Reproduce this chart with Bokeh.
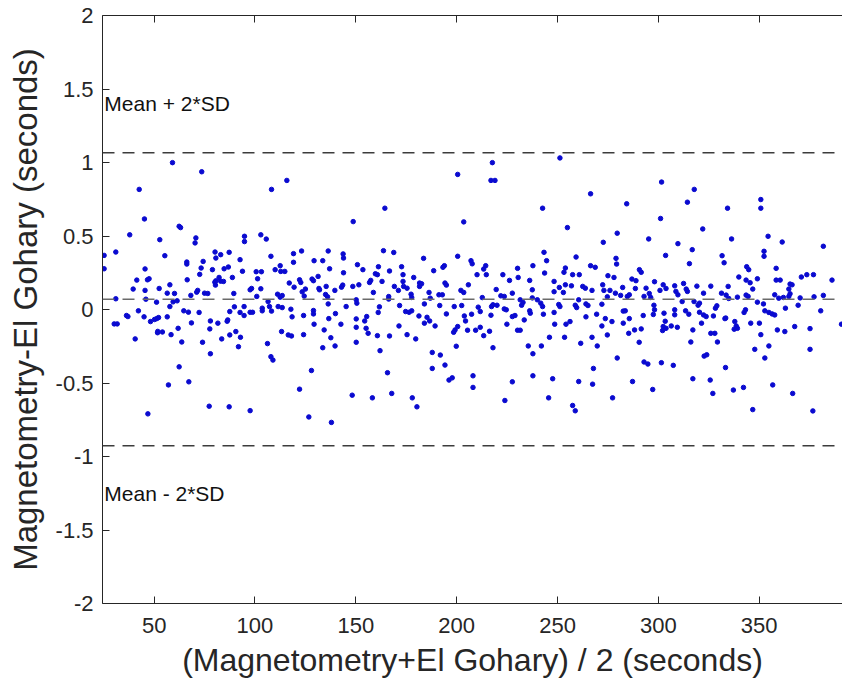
from bokeh.plotting import figure
from bokeh.models import Range1d, FixedTicker, Span, Label, LinearAxis
from bokeh.embed import file_html
from bokeh.resources import INLINE

# ---------------- data ----------------
x_ticks = [50, 100, 150, 200, 250, 300, 350]
y_ticks = [-2, -1.5, -1, -0.5, 0, 0.5, 1, 1.5, 2]
y_tick_labels = ["-2", "-1.5", "-1", "-0.5", "0", "0.5", "1", "1.5", "2"]

mean_diff = 0.07
upper_loa = 1.067
lower_loa = -0.927
upper_text = "Mean + 2*SD"
lower_text = "Mean - 2*SD"

# (average, difference) pairs, by band of the x axis
band_25_95 = [
    (59.1, 0.999), (73.6, 0.937), (42.6, 0.817), (45.2, 0.616), (62.4, 0.566), (63.1, 0.557), (37.9, 0.508), (52.8, 0.475), (70.7, 0.487), (70.3, 0.453),
    (94.8, 0.498), (94.8, 0.462), (25.2, 0.368), (31.0, 0.391), (25.2, 0.277), (55.3, 0.366), (45.5, 0.276), (66.2, 0.323), (66.2, 0.309), (74.3, 0.327),
    (80.2, 0.391), (80.6, 0.350), (83.0, 0.373), (87.2, 0.389), (73.3, 0.282), (78.9, 0.271), (84.7, 0.277), (86.8, 0.289), (92.6, 0.339), (93.8, 0.260),
    (41.4, 0.200), (46.7, 0.202), (47.5, 0.209), (39.6, 0.139), (45.5, 0.130), (66.4, 0.202), (72.6, 0.239), (80.1, 0.186), (80.4, 0.166), (80.6, 0.195),
    (82.2, 0.218), (83.0, 0.193), (84.4, 0.191), (88.8, 0.218), (52.5, 0.143), (57.8, 0.168), (60.1, 0.109), (71.6, 0.130), (71.1, 0.118), (75.0, 0.111),
    (76.6, 0.109), (56.5, 0.111), (68.2, 0.096), (89.5, 0.109), (31.0, 0.073), (45.9, 0.070), (51.2, 0.050), (57.8, 0.020), (59.4, 0.052), (61.4, 0.059),
    (64.7, -0.009), (67.0, -0.018), (72.3, -0.020), (89.8, 0.018), (87.5, -0.014), (92.6, -0.020), (94.6, -0.041), (94.6, 0.020), (36.3, -0.041), (37.0, -0.048),
    (42.2, -0.009), (45.0, -0.050), (30.2, -0.098), (31.7, -0.098), (48.2, -0.082), (50.2, -0.068), (51.3, -0.062), (52.2, -0.055), (56.5, -0.050), (51.8, -0.149),
    (51.7, -0.158), (54.1, -0.153), (58.4, -0.171), (61.9, -0.128), (68.5, -0.091), (77.9, -0.078), (81.6, -0.093), (86.2, -0.080), (86.5, -0.071), (90.5, -0.150),
    (77.6, -0.132), (83.5, -0.200), (87.5, -0.173), (92.8, -0.189), (40.6, -0.200), (63.7, -0.221), (74.0, -0.223), (91.8, -0.253), (77.9, -0.301), (62.4, -0.390),
    (57.1, -0.513), (67.2, -0.492), (77.3, -0.658), (87.2, -0.662), (46.9, -0.710),
]
band_95_167 = [
    (115.8, 0.878), (108.2, 0.817), (164.4, 0.689), (148.7, 0.598), (102.9, 0.508), (105.6, 0.479), (107.9, 0.362), (119.1, 0.380), (123.1, 0.398), (119.1, 0.321),
    (136.3, 0.398), (143.7, 0.378), (143.9, 0.350), (163.7, 0.400), (129.3, 0.332), (133.6, 0.332), (137.0, 0.277), (150.8, 0.305), (153.5, 0.271), (161.2, 0.291),
    (143.9, 0.250), (100.6, 0.257), (103.2, 0.257), (101.3, 0.209), (110.0, 0.271), (112.5, 0.298), (112.8, 0.259), (114.8, 0.259), (159.7, 0.243), (160.7, 0.237),
    (163.0, 0.191), (156.8, 0.184), (157.4, 0.198), (166.7, 0.262), (117.0, 0.180), (122.1, 0.202), (122.7, 0.184), (128.3, 0.207), (129.0, 0.196), (131.3, 0.225),
    (119.4, 0.152), (125.0, 0.139), (123.4, 0.120), (124.4, 0.091), (131.7, 0.143), (132.0, 0.134), (135.3, 0.157), (135.0, 0.102), (136.0, 0.086), (139.6, 0.130),
    (142.9, 0.152), (143.5, 0.166), (148.5, 0.157), (151.5, 0.168), (158.7, 0.116), (97.6, 0.134), (98.3, 0.143), (102.9, 0.141), (100.9, 0.089), (106.5, 0.054),
    (111.2, 0.104), (112.5, 0.084), (113.5, 0.095), (111.5, 0.020), (113.5, 0.013), (103.6, 0.009), (103.6, -0.009), (108.2, -0.011), (107.2, 0.020), (117.8, 0.002),
    (118.4, -0.050), (124.1, -0.041), (129.0, -0.007), (129.0, -0.030), (136.3, 0.038), (139.9, -0.028), (145.2, 0.020), (150.2, 0.066), (150.5, 0.043), (155.4, -0.048),
    (154.4, -0.078), (161.1, -0.020), (161.7, 0.018), (166.3, 0.071), (166.3, 0.088), (97.6, -0.019), (98.8, -0.019), (113.2, -0.150), (116.5, -0.173), (118.1, -0.180),
    (124.1, -0.171), (129.3, -0.100), (134.3, -0.139), (137.6, -0.192), (136.6, -0.062), (142.6, -0.100), (150.2, -0.064), (150.2, -0.121), (155.1, -0.128), (156.1, -0.162),
    (160.7, -0.178), (166.7, -0.180), (133.6, -0.260), (139.7, -0.248), (150.2, -0.223), (162.0, -0.280), (106.2, -0.232), (107.9, -0.321), (108.9, -0.344), (128.0, -0.415),
    (165.7, -0.430), (122.1, -0.542), (148.2, -0.583), (158.2, -0.601), (97.6, -0.688), (126.7, -0.731), (137.9, -0.768),
]
band_167_238 = [
    (217.7, 0.999), (200.5, 0.919), (217.0, 0.878), (219.0, 0.878), (203.5, 0.596), (168.8, 0.388), (183.6, 0.348), (200.5, 0.362), (207.1, 0.332), (207.7, 0.311),
    (172.7, 0.291), (173.4, 0.237), (188.6, 0.264), (193.9, 0.298), (193.2, 0.287), (214.4, 0.298), (213.4, 0.275), (214.7, 0.237), (210.1, 0.237), (222.9, 0.237),
    (230.2, 0.280), (226.2, 0.198), (230.5, 0.218), (236.2, 0.198), (237.8, 0.298), (173.4, 0.191), (173.7, 0.157), (178.7, 0.218), (181.6, 0.180), (181.6, 0.157),
    (182.6, 0.175), (175.4, 0.145), (169.1, 0.157), (171.1, 0.130), (194.2, 0.180), (194.9, 0.166), (205.8, 0.168), (202.1, 0.130), (203.5, 0.116), (191.2, 0.100),
    (192.9, 0.100), (177.4, 0.104), (177.7, 0.082), (186.3, 0.116), (219.6, 0.136), (221.9, 0.093), (223.6, 0.089), (227.6, 0.111), (231.5, 0.066), (232.9, 0.048),
    (232.2, 0.029), (237.5, 0.134), (237.5, 0.079), (186.9, 0.077), (212.7, 0.081), (171.7, 0.027), (184.0, 0.038), (191.6, 0.027), (198.8, 0.020), (202.5, 0.027),
    (210.7, 0.016), (211.7, -0.014), (217.3, 0.020), (218.0, 0.032), (217.0, -0.039), (220.0, 0.029), (223.6, 0.004), (224.6, -0.002), (174.7, -0.014), (176.4, -0.019),
    (177.7, -0.009), (181.3, -0.044), (185.3, -0.053), (186.6, -0.078), (194.9, -0.030), (203.8, -0.044), (207.4, -0.032), (204.4, -0.078), (227.6, -0.048), (228.9, -0.041),
    (236.2, -0.009), (236.5, -0.025), (184.0, -0.093), (189.3, -0.112), (171.4, -0.112), (200.5, -0.116), (199.2, -0.139), (198.5, -0.155), (205.4, -0.141), (209.4, -0.141),
    (211.7, -0.121), (213.4, -0.178), (216.3, -0.148), (224.9, -0.100), (230.2, -0.141), (231.5, -0.141), (233.5, -0.071), (175.4, -0.171), (179.7, -0.200), (199.8, -0.250),
    (218.0, -0.260), (235.5, -0.248), (237.8, -0.301), (187.9, -0.292), (191.9, -0.310), (187.9, -0.401), (194.2, -0.378), (196.2, -0.480), (197.8, -0.465), (208.1, -0.451),
    (208.1, -0.530), (227.6, -0.492), (237.8, -0.451), (167.8, -0.571), (178.0, -0.601), (180.3, -0.662), (223.9, -0.619),
]
band_238_310 = [
    (251.2, 1.031), (301.6, 0.867), (266.4, 0.787), (284.3, 0.719), (242.6, 0.689), (254.9, 0.557), (301.1, 0.619), (279.6, 0.519), (272.7, 0.457), (295.2, 0.480),
    (309.7, 0.448), (243.3, 0.389), (244.6, 0.332), (259.2, 0.357), (279.0, 0.348), (279.3, 0.309), (303.6, 0.368), (243.6, 0.248), (253.2, 0.253), (253.9, 0.282),
    (257.5, 0.237), (260.8, 0.237), (266.4, 0.298), (268.7, 0.287), (275.0, 0.230), (278.0, 0.218), (290.6, 0.271), (291.5, 0.253), (286.9, 0.207), (288.9, 0.196),
    (298.1, 0.189), (248.3, 0.191), (248.3, 0.121), (250.9, 0.150), (253.9, 0.168), (256.9, 0.161), (252.9, 0.116), (262.5, 0.157), (263.8, 0.145), (267.1, 0.130),
    (272.4, 0.168), (273.0, 0.130), (276.0, 0.130), (274.7, 0.086), (278.7, 0.111), (282.3, 0.150), (281.3, 0.096), (284.6, 0.089), (285.6, 0.100), (288.6, 0.143),
    (292.9, 0.089), (293.9, 0.145), (295.5, 0.109), (296.2, 0.082), (300.8, 0.130), (302.4, 0.168), (303.8, 0.143), (308.1, 0.161), (308.7, 0.123), (309.7, 0.100),
    (240.0, 0.066), (241.7, 0.043), (242.6, 0.020), (250.6, 0.034), (251.2, 0.020), (258.8, 0.029), (259.5, 0.013), (260.5, 0.066), (264.1, 0.038), (265.1, 0.027),
    (272.0, 0.036), (297.8, 0.029), (298.1, -0.002), (308.1, -0.002), (243.0, -0.032), (248.3, -0.020), (264.1, -0.050), (269.4, -0.032), (273.7, -0.062), (272.0, -0.112),
    (277.0, -0.082), (282.6, -0.011), (283.6, -0.009), (285.6, -0.062), (282.6, -0.093), (292.5, -0.041), (297.5, -0.034), (302.8, -0.025), (303.4, -0.080), (308.1, -0.036),
    (248.6, -0.100), (254.2, -0.100), (256.2, -0.082), (274.7, -0.173), (285.3, -0.162), (288.2, -0.139), (291.5, -0.132), (302.4, -0.116), (302.1, -0.143), (303.8, -0.128),
    (306.4, -0.112), (309.4, -0.121), (246.0, -0.189), (253.5, -0.189), (261.5, -0.230), (267.1, -0.189), (269.7, -0.248), (290.5, -0.223), (242.0, -0.248), (279.6, -0.330),
    (292.9, -0.357), (294.8, -0.371), (301.5, -0.362), (307.4, -0.380), (247.6, -0.471), (267.8, -0.401), (267.4, -0.508), (260.5, -0.490), (287.2, -0.490), (297.2, -0.544),
    (245.6, -0.601), (277.3, -0.601), (257.5, -0.653), (258.8, -0.689),
]
band_310_391 = [
    (317.8, 0.817), (314.4, 0.730), (334.3, 0.689), (350.8, 0.748), (350.8, 0.689), (322.0, 0.548), (336.3, 0.480), (354.4, 0.498), (361.4, 0.459), (381.8, 0.430),
    (316.8, 0.407), (315.4, 0.312), (331.6, 0.366), (332.6, 0.318), (352.4, 0.396), (352.4, 0.362), (343.8, 0.291), (344.8, 0.271), (358.4, 0.280), (339.9, 0.221),
    (343.5, 0.200), (345.5, 0.182), (349.1, 0.209), (358.4, 0.200), (360.4, 0.200), (370.9, 0.221), (373.6, 0.237), (376.9, 0.237), (365.3, 0.173), (366.3, 0.168),
    (386.1, 0.200), (312.5, 0.177), (313.8, 0.139), (314.4, 0.123), (319.1, 0.159), (326.0, 0.159), (322.4, 0.111), (331.3, 0.111), (333.6, 0.098), (334.6, 0.157),
    (334.9, 0.075), (339.2, 0.084), (343.5, 0.098), (344.5, 0.089), (346.8, 0.139), (357.7, 0.100), (359.7, 0.077), (362.0, 0.082), (364.7, 0.139), (365.3, 0.107),
    (364.7, 0.089), (370.3, 0.079), (377.2, 0.086), (381.8, 0.096), (311.8, 0.054), (317.7, 0.054), (319.7, 0.029), (320.4, 0.043), (313.5, -0.009), (315.1, -0.032),
    (320.4, -0.019), (322.4, -0.037), (323.7, -0.048), (327.3, -0.044), (328.3, 0.009), (329.0, 0.025), (333.0, -0.062), (333.4, -0.058), (342.5, -0.020), (343.2, -0.002),
    (349.1, 0.050), (352.1, 0.038), (352.8, -0.009), (354.8, -0.020), (356.4, -0.030), (357.7, -0.037), (363.0, 0.009), (369.3, 0.029), (380.5, -0.009), (317.1, -0.139),
    (321.4, -0.093), (326.0, -0.162), (328.0, -0.162), (329.3, -0.221), (316.1, -0.221), (337.9, -0.082), (338.6, -0.112), (339.2, -0.128), (337.6, -0.134), (345.8, -0.093),
    (350.1, -0.093), (350.8, -0.171), (359.0, -0.139), (362.7, -0.150), (367.6, -0.116), (375.2, -0.130), (390.8, -0.100), (347.8, -0.271), (354.8, -0.248), (352.8, -0.330),
    (375.2, -0.271), (322.7, -0.317), (324.0, -0.308), (333.3, -0.395), (317.1, -0.471), (325.7, -0.480), (327.0, -0.571), (337.2, -0.548), (342.2, -0.530), (356.7, -0.513),
    (366.6, -0.571), (346.8, -0.681), (376.6, -0.690),
]

points = band_25_95 + band_95_167 + band_167_238 + band_238_310 + band_310_391
avg_values = [pt[0] for pt in points]
diff_values = [pt[1] for pt in points]

# ---------------- figure ----------------
FONT = "Liberation Sans, Arial, Helvetica, sans-serif"
INK = "#262626"

p = figure(width=842, height=682,
           x_range=Range1d(24.4, 391.3), y_range=Range1d(-2, 2),
           output_backend="svg", toolbar_location=None,
           min_border_left=102, min_border_right=0,
           min_border_top=15, min_border_bottom=79)
p.outline_line_color = None
p.grid.visible = False
p.background_fill_color = "white"
p.border_fill_color = "white"

bottom_axis = p.below[0]
left_axis = p.left[0]

top_axis = LinearAxis()
p.add_layout(top_axis, "above")

bottom_axis.ticker = FixedTicker(ticks=x_ticks)
top_axis.ticker = FixedTicker(ticks=x_ticks)
top_axis.major_label_overrides = {t: "" for t in x_ticks}
left_axis.ticker = FixedTicker(ticks=y_ticks)
left_axis.major_label_overrides = {t: s for t, s in zip(y_ticks, y_tick_labels)}

for ax in (bottom_axis, left_axis, top_axis):
    ax.axis_line_color = INK
    ax.axis_line_width = 1
    ax.major_tick_line_color = INK
    ax.major_tick_in = 7
    ax.major_tick_out = 0
    ax.minor_tick_line_color = None
    ax.major_label_text_color = INK
    ax.major_label_text_font = FONT
    ax.major_label_text_font_size = "22px"

top_axis.major_label_standoff = 0

bottom_axis.major_label_standoff = 14
left_axis.major_label_standoff = 9

bottom_axis.axis_label = "(Magnetometry+El Gohary) / 2 (seconds)"
left_axis.axis_label = "Magnetometry-El Gohary (seconds)"
for ax in (bottom_axis, left_axis):
    ax.axis_label_text_font = FONT
    ax.axis_label_text_font_style = "normal"
    ax.axis_label_text_color = INK
bottom_axis.axis_label_text_font_size = "32px"
left_axis.axis_label_text_font_size = "33px"
bottom_axis.axis_label_standoff = 6
left_axis.axis_label_standoff = 9

p.scatter(avg_values, diff_values, marker="circle", size=4.5,
          fill_color="#0a0ad0", line_color="#0a0ad0")

for loc, col in ((upper_loa, "#3c3c3c"), (lower_loa, "#3c3c3c"), (mean_diff, "#6a6a6a")):
    p.add_layout(Span(location=loc, dimension="width", line_color=col,
                      line_width=1.5, line_dash="12 8"))

p.add_layout(Label(x=25.3, y=1.40, text=upper_text, text_baseline="middle",
                   text_align="left", text_font=FONT, text_font_size="21px",
                   text_color="#111111"))
p.add_layout(Label(x=25.3, y=-1.25, text=lower_text, text_baseline="middle",
                   text_align="left", text_font=FONT, text_font_size="21px",
                   text_color="#111111"))

open("out.html", "w").write(file_html(p, INLINE))
